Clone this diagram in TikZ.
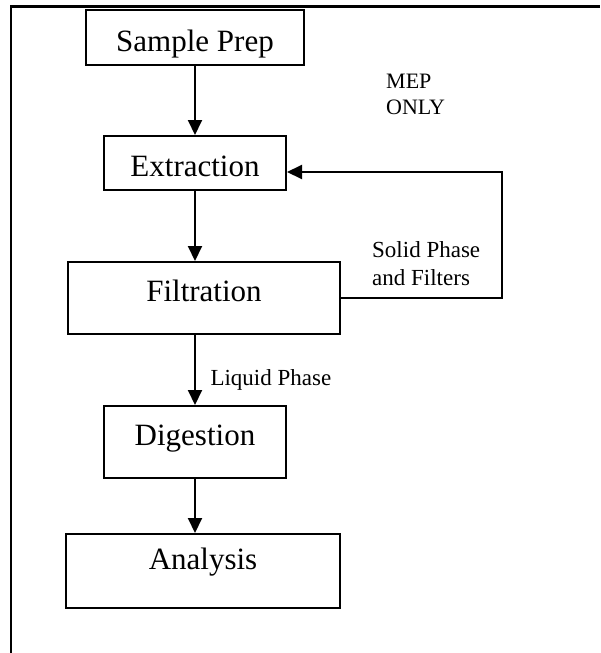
\documentclass[tikz,border=0pt]{standalone}
\usepackage{fontspec}
\setmainfont{Liberation Serif}
\usetikzlibrary{arrows.meta}
\begin{document}
\begin{tikzpicture}[x=1pt,y=-1pt,
  box/.style={draw,line width=2pt,inner sep=0pt,text depth=0pt,font=\fontsize{31}{36}\selectfont},
  note/.style={inner sep=0pt,align=left,font=\fontsize{23}{28}\selectfont},
  flow/.style={line width=2pt,-{Triangle[length=15pt,width=14pt]}}]
  \useasboundingbox (0,0) rectangle (600,653);
  \draw[line width=2pt] (11,653) -- (11,6.5);
  \draw[line width=3pt] (10,6.5) -- (600,6.5);

  \node[box,minimum width=218pt,minimum height=55pt,text height=27pt] (prep) at (195,37.5) {Sample Prep};
  \node[box,minimum width=182pt,minimum height=54pt,text height=26pt] (extr) at (195,163) {Extraction};
  \node[box,minimum width=272pt,minimum height=72pt,text height=7.4pt] (filt) at (204,298) {Filtration};
  \node[box,minimum width=182pt,minimum height=72pt,text height=7.4pt] (dig) at (195,442) {Digestion};
  \node[box,minimum width=274pt,minimum height=74pt,text height=0pt,text depth=3.4pt] (ana) at (203,571) {Analysis};

  \node[note,anchor=north west,font=\fontsize{22}{26}\selectfont] (mep) at (386,73.4) {MEP\\ONLY};
  \node[note,anchor=north west] (solid) at (372,241) {Solid Phase\\and Filters};
  \coordinate (turn) at (502,172);

  \draw[flow] (prep.south) -- (prep.south |- extr.north);
  \draw[flow] (extr.south) -- (extr.south |- filt.north);
  \draw[flow] (dig.north |- filt.south) -- node[note,pos=0.64,anchor=west,xshift=14.5pt] (liq) {Liquid Phase} (dig.north);
  \draw[flow] (dig.south) -- (dig.south |- ana.north);
  \draw[flow] (filt.east) -| (turn) -- (turn -| extr.east);
\end{tikzpicture}
\end{document}
